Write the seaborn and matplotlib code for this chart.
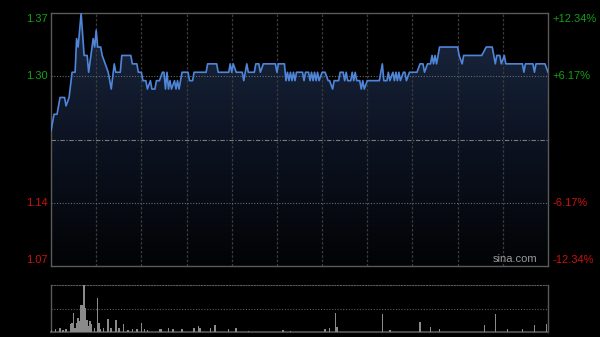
import numpy as np
import matplotlib
matplotlib.use("Agg")
import matplotlib.pyplot as plt
from matplotlib.colors import LinearSegmentedColormap
import seaborn as sns

# ---------------- data ----------------
pre_close = 1.22
left_labels = ["1.37", "1.30", "1.14", "1.07"]
right_labels = ["+12.34%", "+6.17%", "-6.17%", "-12.34%"]
grid_prices = [1.2953, 1.1447]

minutes = [
    0, 2, 4, 6, 9, 10, 12, 14, 16, 17,
    18, 20, 22, 24, 25, 28, 29, 30, 31, 33,
    34, 36, 38, 39, 40, 42, 43, 46, 47, 53,
    54, 57, 58, 60, 61, 63, 64, 66, 67, 69,
    70, 72, 74, 75, 76, 77, 78, 79, 80, 82,
    83, 84, 85, 87, 91, 92, 94, 95, 103, 104,
    110, 111, 118, 119, 120, 121, 123, 127, 128, 129,
    130, 131, 135, 136, 138, 139, 141, 149, 150, 151,
    155, 156, 157, 158, 159, 160, 161, 162, 163, 167,
    168, 169, 171, 172, 173, 174, 175, 176, 177, 178,
    180, 182, 184, 185, 187, 188, 191, 192, 194, 195,
    196, 197, 199, 200, 201, 202, 203, 205, 206, 207,
    208, 210, 218, 220, 221, 223, 224, 225, 227, 228,
    229, 230, 231, 232, 234, 235, 236, 238, 243, 245,
    247, 248, 250, 252, 253, 254, 255, 256, 258, 270,
    271, 273, 274, 286, 289, 293, 294, 295, 296, 298,
    299, 301, 302, 313, 314, 315, 320, 321, 322, 328,
    330,
]
prices = [
    1.23, 1.25, 1.25, 1.27, 1.27, 1.26, 1.27, 1.30, 1.30, 1.34,
    1.33, 1.37, 1.32, 1.32, 1.30, 1.34, 1.33, 1.35, 1.33, 1.33,
    1.32, 1.31, 1.30, 1.29, 1.28, 1.31, 1.30, 1.30, 1.32, 1.32,
    1.31, 1.31, 1.30, 1.30, 1.29, 1.29, 1.28, 1.29, 1.28, 1.28,
    1.29, 1.29, 1.30, 1.30, 1.28, 1.30, 1.28, 1.29, 1.28, 1.29,
    1.28, 1.29, 1.28, 1.30, 1.30, 1.29, 1.29, 1.30, 1.30, 1.31,
    1.31, 1.30, 1.30, 1.31, 1.30, 1.31, 1.30, 1.30, 1.29, 1.30,
    1.31, 1.30, 1.30, 1.31, 1.31, 1.30, 1.31, 1.31, 1.30, 1.31,
    1.31, 1.29, 1.30, 1.29, 1.30, 1.29, 1.30, 1.29, 1.30, 1.30,
    1.29, 1.30, 1.30, 1.29, 1.30, 1.29, 1.30, 1.29, 1.30, 1.29,
    1.30, 1.30, 1.29, 1.29, 1.28, 1.29, 1.29, 1.30, 1.30, 1.29,
    1.30, 1.29, 1.29, 1.30, 1.29, 1.30, 1.29, 1.29, 1.28, 1.29,
    1.28, 1.29, 1.29, 1.31, 1.29, 1.29, 1.30, 1.29, 1.30, 1.29,
    1.30, 1.29, 1.30, 1.29, 1.30, 1.30, 1.29, 1.30, 1.30, 1.31,
    1.31, 1.30, 1.31, 1.31, 1.32, 1.31, 1.32, 1.31, 1.33, 1.33,
    1.32, 1.31, 1.32, 1.32, 1.33, 1.33, 1.32, 1.31, 1.32, 1.32,
    1.31, 1.32, 1.31, 1.31, 1.30, 1.31, 1.31, 1.30, 1.31, 1.31,
    1.30,
]

vol_minutes = [
    0, 3, 6, 8, 10, 13, 14, 15, 16, 17,
    18, 19, 20, 21, 22, 23, 24, 25, 26, 27,
    29, 31, 32, 33, 35, 38, 40, 43, 45, 48,
    51, 54, 57, 60, 62, 64, 72, 73, 78, 81,
    87, 95, 98, 99, 106, 109, 118, 123, 131, 154,
    159, 182, 185, 189, 190, 220, 225, 245, 252, 258,
    288, 295, 303, 313, 321, 329,
]
vol_values = [
    20, 27, 43, 20, 33, 77, 93, 193, 43, 93,
    143, 110, 277, 277, 477, 243, 127, 60, 110, 77,
    43, 343, 93, 27, 43, 133, 43, 120, 43, 77,
    20, 27, 33, 93, 33, 20, 30, 33, 37, 27,
    27, 37, 63, 37, 37, 70, 27, 43, 13, 20,
    13, 27, 37, 193, 47, 187, 20, 103, 47, 27,
    70, 187, 27, 27, 70, 80,
]

# ---------------- style ----------------
sns.set_theme(style="dark")
plt.rcParams["font.family"] = ["Liberation Sans", "DejaVu Sans"]

GREEN = "#14a014"
RED = "#cc1111"
LINE = "#4f86d9"

fig = plt.figure(figsize=(6.0, 3.37), dpi=100)
fig.patch.set_facecolor("black")

ymax = 1.3705
ymin = 1.0695
ax = fig.add_axes([51 / 600, 1 - 266 / 337, 497 / 600, 253 / 337])
ax.set_facecolor("black")

# gradient fill under the line
poly = ax.fill_between(minutes, prices, ymin, color="none", lw=0)
cmap = LinearSegmentedColormap.from_list("g", ["#1c2942", "#0c1322", "#020305"])
grad = np.linspace(0, 1, 256).reshape(-1, 1)
im = ax.imshow(grad, extent=[0, 330, ymin, ymax], aspect="auto", cmap=cmap,
               origin="upper", zorder=1)
im.set_clip_path(poly.get_paths()[0], transform=ax.transData)

sns.lineplot(x=minutes, y=prices, ax=ax, color=LINE, lw=1.2, zorder=5)

ax.set_xlim(0, 330)
ax.set_ylim(ymin, ymax)

# grid lines
for gp in grid_prices:
    ax.axhline(gp, color="#6a6a6a", lw=0.8, ls=(0, (1, 1.5)), zorder=3)
ax.axhline(pre_close, color="#7a7a7a", lw=0.8, ls=(0, (4, 1.5, 1, 1.5)), zorder=3)
for m in range(30, 330, 30):
    ax.axvline(m, color="#3c3c3c", lw=0.9, ls=(0, (2, 1.5)), zorder=2)

for s in ax.spines.values():
    s.set_color("#5a5a5a")
    s.set_linewidth(1.0)
    s.set_visible(True)
ax.set_xticks([])
ax.set_yticks([])
ax.grid(False)

# labels
pix = (ymax - ymin) / 253
label_y = [ymax - 6 * pix, grid_prices[0], grid_prices[1], ymin + 6 * pix]
colors = [GREEN, GREEN, RED, RED]
for lab, yv, c in zip(left_labels, label_y, colors):
    ax.text(-2.5, yv, lab, color=c, fontsize=8, ha="right", va="center",
            clip_on=False)
for lab, yv, c in zip(right_labels, label_y, colors):
    ax.text(333, yv, lab, color=c, fontsize=8, ha="left", va="center",
            clip_on=False)

ax.text(323, ymin + 1.5 * pix, "sina.com", color="#9a9a9a", fontsize=8,
        ha="right", va="bottom", zorder=6)

# ---------------- volume ----------------
vax = fig.add_axes([51 / 600, 1 - 332 / 337, 497 / 600, 47 / 337])
vax.set_facecolor("black")
vax.bar(vol_minutes, vol_values, width=1.0, color="#8a8a8a", lw=0, zorder=3)
vax.set_xlim(0, 330)
vax.set_ylim(0, 480)
vax.axhline(240, color="#5a5a5a", lw=0.8, ls=(0, (1, 1.5)), zorder=1)
vax.set_xticks([])
vax.set_yticks([])
vax.grid(False)
for side in ["left", "right"]:
    vax.spines[side].set_color("#5a5a5a")
    vax.spines[side].set_linewidth(1.0)
vax.spines["top"].set_color("#5a5a5a")
vax.spines["top"].set_linestyle((0, (1, 1.5)))
vax.spines["top"].set_linewidth(0.8)
vax.spines["bottom"].set_color("#4a4a4a")
vax.spines["bottom"].set_linewidth(1.5)

fig.savefig("out.png", dpi=100, facecolor="black")
